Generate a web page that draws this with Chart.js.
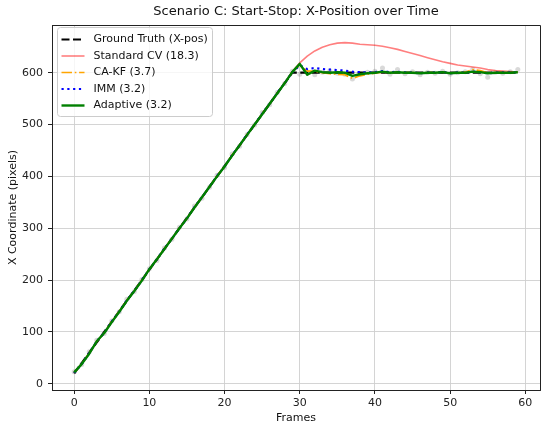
<!DOCTYPE html>
<html><head><meta charset="utf-8">
<script src="https://cdn.jsdelivr.net/npm/chart.js@4.4.1/dist/chart.umd.min.js"></script>
<style>html,body{margin:0;padding:0;background:#fff}canvas{display:block}</style>
</head><body>
<canvas id="c" width="550" height="430"></canvas>
<script>
const chartTitle = "Scenario C: Start-Stop: X-Position over Time";
const xAxisLabel = "Frames";
const yAxisLabel = "X Coordinate (pixels)";
const xTicks = [0, 10, 20, 30, 40, 50, 60];
const yTicks = [0, 100, 200, 300, 400, 500, 600];

const frames = [0,1,2,3,4,5,6,7,8,9,10,11,12,13,14,15,16,17,18,19,20,21,22,23,24,25,26,27,28,29,
  30,31,32,33,34,35,36,37,38,39,40,41,42,43,44,45,46,47,48,49,50,51,52,53,54,55,56,57,58,59];

const groundTruth = [20,40,60,80,100,120,140,160,180,200,220,240,260,280,300,320,340,360,380,400,
  420,440,460,480,500,520,540,560,580,600,600,600,600,600,600,600,600,600,600,600,
  600,600,600,600,600,600,600,600,600,600,600,600,600,600,600,600,600,600,600,600];

const measurements = [23,37,62,84,97,121,139,163,178,201,222,238,262,279,302,318,343,358,379,402,
  417,443,458,481,499,523,538,562,579,603,597,602,596,601,604,599,597,588,598,601,
  603,609,597,606,598,602,596,601,599,603,597,600,602,606,598,591,601,599,602,606];

const standardCV = [22,38,59,81,98,120,139,161,179,200,221,239,261,280,301,319,341,359,380,401,
  419,441,459,481,500,521,539,561,580,602,619,632,642,649,654,657,658,657,655,654,
  653,651,648,645,641,637,633,629,625,621,618,615,613,611,609,606,604,603,602,601];

const caKF = [21,39,59,82,98,120,140,161,179,200,221,240,261,280,300,319,341,360,380,401,
  419,441,460,481,500,521,540,561,580,602,614,603,603,600,598,597,596,589,594,597,
  599,601,600,601,600,600,599,600,600,601,599,600,601,606,604,600,600,600,600,601];

const imm = [21,38,59,82,98,120,139,161,179,200,221,240,261,280,300,319,341,360,380,401,
  419,441,460,481,500,521,540,561,580,601,614,607,609,607,606,605,604,602,601,600,
  601,603,601,602,600,600,599,600,600,601,599,600,600,602,601,599,600,600,600,601];

const adaptive = [22,38,58,82,98,119,139,160,179,199,221,240,260,280,300,319,340,360,380,400,
  419,440,460,480,500,520,540,560,580,601,617,596,604,601,600,601,600,594,597,599,
  600,602,600,601,600,600,599,600,600,601,599,600,600,602,601,599,600,600,600,601];

const seriesNames = ["Ground Truth (X-pos)", "Standard CV (18.3)", "CA-KF (3.7)", "IMM (3.2)", "Adaptive (3.2)"];

function pts(arr) { return frames.map((f, i) => ({x: f, y: arr[i]})); }

Chart.defaults.font.family = "'DejaVu Sans', sans-serif";
Chart.defaults.font.size = 11;
Chart.defaults.color = '#222';

const frameAndTitle = {
  id: 'frameAndTitle',
  afterDatasetsDraw(chart) {
    const {ctx, chartArea: a} = chart;
    ctx.save();
    ctx.strokeStyle = '#222';
    ctx.lineWidth = 1;
    ctx.beginPath();
    ctx.moveTo(a.left, a.top + 0.5); ctx.lineTo(a.right + 0.5, a.top + 0.5);
    ctx.lineTo(a.right + 0.5, a.bottom);
    ctx.stroke();
    ctx.restore();
  },
  afterDraw(chart) {
    const {ctx, chartArea: a} = chart;
    ctx.save();
    ctx.font = "13px 'DejaVu Sans', sans-serif";
    ctx.fillStyle = '#111';
    ctx.textAlign = 'center';
    ctx.textBaseline = 'middle';
    ctx.fillText(chartTitle, (a.left + a.right) / 2, 12);
    // legend
    const items = chart.data.datasets.filter(d => d.inLegend);
    const bx = a.left + 5.5, by = a.top + 2.5, bw = 155, bh = 89;
    ctx.fillStyle = 'rgba(255,255,255,0.8)';
    ctx.strokeStyle = '#cccccc';
    ctx.lineWidth = 1;
    ctx.beginPath();
    if (ctx.roundRect) ctx.roundRect(bx, by, bw, bh, 3); else ctx.rect(bx, by, bw, bh);
    ctx.fill(); ctx.stroke();
    ctx.font = "11px 'DejaVu Sans', sans-serif";
    ctx.textAlign = 'left';
    items.forEach((d, i) => {
      const y = by + 12 + i * 16.5;
      ctx.save();
      ctx.strokeStyle = d.borderColor;
      ctx.lineWidth = d.borderWidth;
      ctx.setLineDash(d.borderDash || []);
      ctx.lineCap = 'butt';
      ctx.beginPath();
      ctx.moveTo(bx + 4, y); ctx.lineTo(bx + 27, y);
      ctx.stroke();
      ctx.restore();
      ctx.fillStyle = '#111';
      ctx.fillText(d.label, bx + 36, y);
    });
    ctx.restore();
  }
};

new Chart(document.getElementById('c'), {
  type: 'line',
  data: {
    datasets: [
      {label: seriesNames[0], data: pts(groundTruth), borderColor: '#000000', borderWidth: 2.2, borderDash: [8, 3.5], order: 4, inLegend: true},
      {label: seriesNames[1], data: pts(standardCV), borderColor: 'rgba(255,0,0,0.5)', borderWidth: 1.6, order: 3, inLegend: true},
      {label: seriesNames[2], data: pts(caKF), borderColor: '#ffa500', borderWidth: 1.7, borderDash: [10.5, 2.7, 1.7, 2.7], order: 2, inLegend: true},
      {label: seriesNames[3], data: pts(imm), borderColor: '#0000ff', borderWidth: 2.2, borderDash: [2.2, 3.6], order: 1, inLegend: true},
      {label: seriesNames[4], data: pts(adaptive), borderColor: '#008000', borderWidth: 2.4, order: 0, inLegend: true},
      {label: 'Measurements', data: pts(measurements), showLine: false, pointRadius: 2.5, pointBorderWidth: 0,
       pointBackgroundColor: 'rgba(128,128,128,0.3)', borderColor: 'rgba(128,128,128,0.3)', order: 5, inLegend: false}
    ]
  },
  options: {
    responsive: false,
    animation: false,
    layout: {padding: {top: 25, right: 10, left: 0, bottom: 0}},
    elements: {point: {radius: 0}, line: {tension: 0, borderCapStyle: 'butt', borderJoinStyle: 'round'}},
    plugins: {legend: {display: false}, title: {display: false}, tooltip: {enabled: false}},
    scales: {
      x: {
        type: 'linear', min: -2.95, max: 61.95,
        afterBuildTicks(s) { s.ticks = xTicks.map(v => ({value: v})); },
        afterFit(s) { s.height = 40; },
        ticks: {padding: 3, color: '#222', font: {size: 11}},
        grid: {color: '#cfcfcf', lineWidth: 0.9, drawTicks: true, tickLength: 4, tickColor: '#222', tickWidth: 1},
        border: {display: true, color: '#222', width: 1},
        title: {display: true, text: xAxisLabel, font: {size: 11}, color: '#111', padding: {top: 0, bottom: 5}}
      },
      y: {
        type: 'linear', min: -12, max: 692,
        afterBuildTicks(s) { s.ticks = yTicks.map(v => ({value: v})); },
        afterFit(s) { s.width = 52; },
        ticks: {padding: 5, color: '#222', font: {size: 11}},
        grid: {color: '#cfcfcf', lineWidth: 0.9, drawTicks: true, tickLength: 4, tickColor: '#222', tickWidth: 1},
        border: {display: true, color: '#222', width: 1},
        title: {display: true, text: yAxisLabel, font: {size: 11}, color: '#111', padding: {top: 6.5, bottom: 0}}
      }
    }
  },
  plugins: [frameAndTitle]
});
</script>
</body></html>
